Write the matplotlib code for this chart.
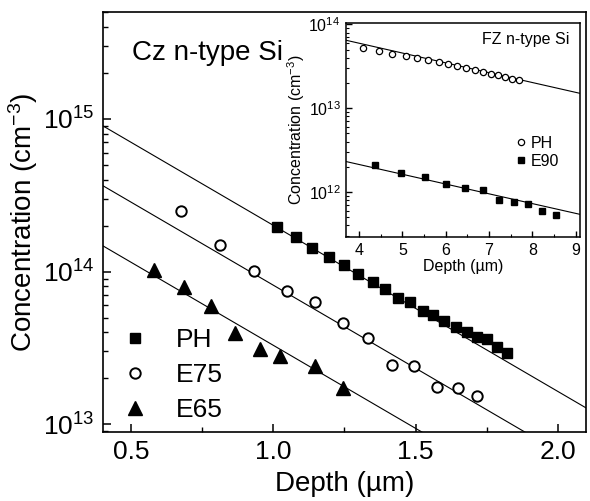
import numpy as np
import matplotlib
matplotlib.use("Agg")
import matplotlib.pyplot as plt
from matplotlib.ticker import LogLocator, MultipleLocator, NullFormatter

plt.rcParams['font.family'] = ['Liberation Sans', 'DejaVu Sans']
plt.rcParams['mathtext.fontset'] = 'custom'
plt.rcParams['mathtext.rm'] = 'Liberation Sans'
plt.rcParams['mathtext.default'] = 'regular'

# ---------------- main panel data (Cz n-type Si) ----------------
ph_x = [1.012, 1.079, 1.136, 1.194, 1.249, 1.296, 1.350, 1.393, 1.438, 1.482,
        1.525, 1.563, 1.601, 1.642, 1.681, 1.718, 1.751, 1.786, 1.821]
ph_y = [1.97e14, 1.69e14, 1.42e14, 1.25e14, 1.11e14, 9.64e13, 8.58e13, 7.64e13,
        6.73e13, 6.28e13, 5.53e13, 5.19e13, 4.76e13, 4.31e13, 4.03e13, 3.71e13,
        3.59e13, 3.21e13, 2.94e13]
e75_x = [0.675, 0.812, 0.932, 1.046, 1.147, 1.244, 1.332, 1.417, 1.494, 1.575,
         1.648, 1.716]
e75_y = [2.49e14, 1.49e14, 1.01e14, 7.41e13, 6.27e13, 4.58e13, 3.65e13, 2.46e13,
         2.41e13, 1.76e13, 1.73e13, 1.53e13]
e65_x = [0.581, 0.686, 0.779, 0.865, 0.951, 1.024, 1.147, 1.244]
e65_y = [1.03e14, 7.87e13, 5.94e13, 3.97e13, 3.09e13, 2.79e13, 2.42e13, 1.72e13]

# exponential fits N = N0 * exp(-x / L)
main_fit_N0 = [2.44e15, 9.9e14, 4.0e14]      # PH, E75, E65
main_fit_L = [0.400, 0.400, 0.400]

# ---------------- inset data (FZ n-type Si) ----------------
in_ph_x = [4.092, 4.455, 4.771, 5.078, 5.347, 5.592, 5.839, 6.063, 6.270, 6.478,
           6.670, 6.861, 7.039, 7.207, 7.378, 7.539, 7.692]
in_ph_y = [5.16e13, 4.79e13, 4.46e13, 4.17e13, 3.92e13, 3.79e13, 3.56e13, 3.37e13,
           3.19e13, 3.01e13, 2.86e13, 2.71e13, 2.59e13, 2.47e13, 2.36e13, 2.25e13,
           2.16e13]
in_e90_x = [4.362, 4.978, 5.523, 6.000, 6.446, 6.854, 7.223, 7.576, 7.899, 8.232, 8.555]
in_e90_y = [2.10e12, 1.70e12, 1.50e12, 1.26e12, 1.11e12, 1.05e12, 8.0e11, 7.6e11,
            7.2e11, 6.0e11, 5.3e11]
inset_fit_N0 = [1.76e14, 6.24e12]            # PH, E90
inset_fit_L = [3.70, 3.72]

main_labels = ['PH', 'E75', 'E65']
inset_labels = ['PH', 'E90']

fig = plt.figure(figsize=(5.9, 5.01), dpi=100)

# ---------------- main axes ----------------
ax = fig.add_axes([103/590, 1-432/501, 483/590, 420/501])
xlim = (0.4, 2.1)
ax.set_xlim(*xlim)
ax.set_ylim(8.9e12, 5.0e15)
ax.set_yscale('log')

xf = np.linspace(xlim[0], xlim[1], 200)
for N0, L in zip(main_fit_N0, main_fit_L):
    ax.plot(xf, N0*np.exp(-xf/L), color='black', lw=0.8, zorder=1)

ax.plot(ph_x, ph_y, 's', color='black', ms=7.5, label=main_labels[0], zorder=3)
ax.plot(e75_x, e75_y, 'o', mfc='white', mec='black', mew=1.4, ms=7.5,
        label=main_labels[1], zorder=3)
ax.plot(e65_x, e65_y, '^', color='black', ms=9.5, label=main_labels[2], zorder=3)

ax.xaxis.set_major_locator(MultipleLocator(0.5))
ax.xaxis.set_minor_locator(MultipleLocator(0.25))
ax.yaxis.set_major_locator(LogLocator(base=10, numticks=10))
ax.yaxis.set_minor_locator(LogLocator(base=10, subs=np.arange(2, 10), numticks=20))
ax.yaxis.set_minor_formatter(NullFormatter())
ax.tick_params(axis='both', which='major', direction='in', length=6, width=1.1,
               labelsize=19, pad=6)
ax.tick_params(axis='both', which='minor', direction='in', length=3.5, width=1.0)
ax.tick_params(top=False, right=False, which='both')
for s in ax.spines.values():
    s.set_linewidth(1.2)

ax.set_xlabel('Depth (µm)', fontsize=20, labelpad=5)
ax.set_ylabel('Concentration (cm$^{-3}$)', fontsize=20, labelpad=2)
ax.text(0.06, 0.902, 'Cz n-type Si', transform=ax.transAxes, fontsize=20,
        ha='left', va='center')
ax.legend(loc='upper left', bbox_to_anchor=(0.0248, 0.248), frameon=False,
          fontsize=19, handlelength=1.5, handletextpad=0.8, labelspacing=0.42,
          borderpad=0, borderaxespad=0, numpoints=1)

# ---------------- inset axes ----------------
ins = fig.add_axes([346/590, 1-237/501, 234/590, 214/501])
ixlim = (3.7, 9.1)
ins.set_xlim(*ixlim)
ins.set_ylim(2.9e11, 1.04e14)
ins.set_yscale('log')
xi = np.linspace(ixlim[0], ixlim[1], 200)
for N0, L in zip(inset_fit_N0, inset_fit_L):
    ins.plot(xi, N0*np.exp(-xi/L), color='black', lw=0.8, zorder=1)
ins.plot(in_ph_x, in_ph_y, 'o', mfc='white', mec='black', mew=0.9, ms=4.5,
         label=inset_labels[0], zorder=3)
ins.plot(in_e90_x, in_e90_y, 's', color='black', ms=4.3,
         label=inset_labels[1], zorder=3)
ins.xaxis.set_major_locator(MultipleLocator(1))
ins.xaxis.set_minor_locator(MultipleLocator(0.5))
ins.yaxis.set_major_locator(LogLocator(base=10, numticks=10))
ins.yaxis.set_minor_locator(LogLocator(base=10, subs=np.arange(2, 10), numticks=20))
ins.yaxis.set_minor_formatter(NullFormatter())
ins.tick_params(axis='both', which='major', direction='in', length=4, width=1.0,
                labelsize=11.5, pad=4)
ins.tick_params(axis='both', which='minor', direction='in', length=2.5, width=0.8)
ins.tick_params(top=False, right=False, which='both')
for s in ins.spines.values():
    s.set_linewidth(1.1)
ins.set_xlabel('Depth (µm)', fontsize=11.5, labelpad=1)
ins.set_ylabel('Concentration (cm$^{-3}$)', fontsize=11.5, labelpad=1)
ins.text(0.58, 0.924, 'FZ n-type Si', transform=ins.transAxes, fontsize=11.5,
         ha='left', va='center')
ins.legend(loc='upper left', bbox_to_anchor=(0.726, 0.474), frameon=False,
           fontsize=11.5, handlelength=0.6, handletextpad=0.35, labelspacing=0.22,
           borderpad=0, borderaxespad=0, numpoints=1)

fig.savefig('out.png', dpi=100)
